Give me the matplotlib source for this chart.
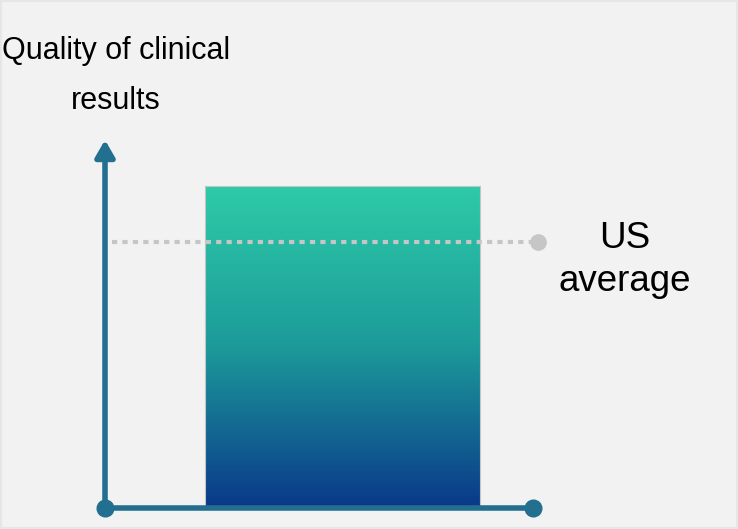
import numpy as np
import matplotlib
matplotlib.use("Agg")
import matplotlib.pyplot as plt
from matplotlib.colors import LinearSegmentedColormap
from matplotlib.patches import Rectangle

# Values (relative quality score; the bar is the reference level)
categories = ["Quality"]
quality_values = [1.0]
us_average = 0.826
axis_title = "Quality of clinical\nresults"
avg_label = "US\naverage"

bg = "#f2f2f2"
axis_color = "#236f8f"
avg_color = "#c6c6c6"
grad = LinearSegmentedColormap.from_list(
    "bar_grad", [(0.0, "#0a3889"), (0.5, "#1c9a9a"), (1.0, "#2dcba7")])

plt.rcParams["font.family"] = ["Liberation Sans", "DejaVu Sans"]

W, H = 738, 529
fig = plt.figure(figsize=(W / 100, H / 100), dpi=100, facecolor=bg)

# faint frame around the slide
fig.patches.append(Rectangle((0, 0), 1, 1, transform=fig.transFigure,
                             fill=False, ec="#e6e6e6", lw=3, zorder=0))

ax = fig.add_axes([105 / W, (H - 508) / H, 428 / W, 368 / H])
ax.set_xlim(0, 1)
ax.set_ylim(0, 1.143)
ax.axis("off")
ax.patch.set_alpha(0)

# gradient bar
bar_center, bar_width = 0.555, 0.643
bars = ax.bar(bar_center, quality_values[0], width=bar_width, color="none",
              edgecolor="#c4c4c4", lw=0.8, zorder=2)
b = bars[0]
x0, w, h = b.get_x(), b.get_width(), b.get_height()
gradient = np.linspace(0, 1, 256).reshape(-1, 1)
ax.imshow(gradient, cmap=grad, origin="lower", aspect="auto",
          extent=(x0, x0 + w, 0, h), zorder=1)
ax.set_xlim(0, 1)
ax.set_ylim(0, 1.143)

# US average reference line
ax.plot([0.016, 1.012], [us_average, us_average], color=avg_color, lw=3,
        linestyle=(0, (1.25, 1.25)), solid_capstyle="butt",
        dash_capstyle="butt", clip_on=False, zorder=3)
ax.plot([1.012], [us_average], "o", color=avg_color, ms=11, clip_on=False,
        zorder=3)
ax.annotate(avg_label, xy=(1.215, us_average), xytext=(0, -13),
            textcoords="offset points", ha="center", va="center",
            fontsize=26.5, color="#000000", linespacing=1.3,
            annotation_clip=False)

# x axis with end dots
ax.plot([0, 1], [0, 0], color=axis_color, lw=4, solid_capstyle="butt",
        clip_on=False, zorder=4)
ax.plot([0, 1], [0, 0], "o", color=axis_color, ms=12, clip_on=False,
        zorder=5)

# y axis arrow
ax.annotate("", xy=(0, 1.143), xytext=(0, 0),
            arrowprops=dict(arrowstyle="-|>,head_length=0.5,head_width=0.29",
                            mutation_scale=20, color=axis_color, lw=4,
                            shrinkA=0, shrinkB=0),
            annotation_clip=False, zorder=4)

# axis title
fig.text(116 / W, 1 - 36 / H, axis_title, ha="center", va="top",
         fontsize=22, linespacing=1.85, color="#000000")

fig.savefig("out.png", dpi=100, facecolor=bg)
